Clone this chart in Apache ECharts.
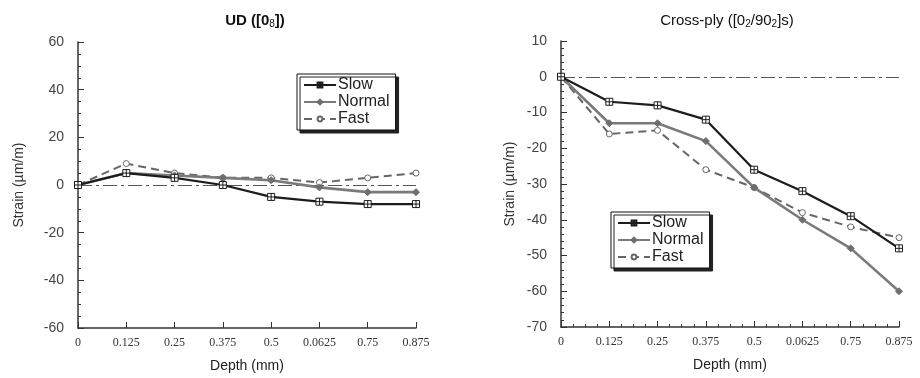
<!DOCTYPE html>
<html><head><meta charset="utf-8">
<script src="https://cdn.jsdelivr.net/npm/echarts@6/dist/echarts.min.js"></script>
<style>html,body{margin:0;padding:0;background:#fff}#c{width:920px;height:378px}</style>
</head><body><div id="c"></div>
<script>
const depthLabels = ['0','0.125','0.25','0.375','0.5','0.0625','0.75','0.875'];
const seriesNames = ['Slow','Normal','Fast'];
const udSlow   = [0, 5, 3, 0, -5, -7, -8, -8];
const udNormal = [0, 5, 4, 3, 2, -1, -3, -3];
const udFast   = [0, 9, 5, 3, 3, 1, 3, 5];
const cpSlow   = [0, -7, -8, -12, -26, -32, -39, -48];
const cpNormal = [0, -13, -13, -18, -31, -40, -48, -60];
const cpFast   = [0, -16, -15, -26, -31, -38, -42, -45];

const pts = arr => arr.map((v,i)=>[i,v]);
const squarePlus = 'path://M0,0H10V10H0Z M5,0V10 M0,5H10';
const styles = {
  Slow:   {color:'#1c1c1c', lineStyle:{color:'#1c1c1c',width:2.2,type:'solid'}, symbol:squarePlus, symbolSize:7, itemStyle:{color:'#fff',borderColor:'#1c1c1c',borderWidth:1}},
  Normal: {color:'#7a7a7a', lineStyle:{color:'#7a7a7a',width:2.6,type:'solid'}, symbol:'diamond', symbolSize:7, itemStyle:{color:'#6e6e6e',borderColor:'#6e6e6e',borderWidth:1}},
  Fast:   {color:'#666', lineStyle:{color:'#666',width:2,type:[8,5]}, symbol:'circle', symbolSize:6, itemStyle:{color:'#fff',borderColor:'#666',borderWidth:1}}
};
function mk(name, data, idx, withZero){
  const s = styles[name];
  const o = {name, type:'line', xAxisIndex:idx, yAxisIndex:idx, data:pts(data),
    symbol:s.symbol, symbolSize:s.symbolSize, showAllSymbol:true,
    lineStyle:s.lineStyle, itemStyle:s.itemStyle, color:s.color, z: name==='Slow'?5:(name==='Normal'?4:3), animation:false};
  if (withZero) o.markLine = {silent:true, symbol:['none','none'], label:{show:false}, z:1,
    lineStyle:{color:'#555',width:1.2,type:[14,4,3,4]}, data:[{yAxis:0}]};
  return o;
}
const axisCol = '#333';
function xAx(idx, minor){
  return {type:'value', gridIndex:idx, min:0, max:7, interval:1,
    name:'Depth (mm)', nameLocation:'middle', nameGap:31,
    nameTextStyle:{fontFamily:'Liberation Sans, Arial', fontSize:14, color:'#222'},
    axisLine:{onZero:false, lineStyle:{color:axisCol,width:1.5}},
    axisTick:{inside:true,length:6,lineStyle:{color:axisCol}},
    minorTick:{show:minor, splitNumber:4, length:3, lineStyle:{color:axisCol}},
    splitLine:{show:false},
    axisLabel:{formatter:v=>depthLabels[v]||'', fontFamily:'Liberation Serif, Times New Roman', fontSize:12, color:'#333', margin:9}};
}
function yAx(idx, min, max, interval, minorSplit, gap){
  return {type:'value', gridIndex:idx, min, max, interval,
    name:'Strain (µm/m)', nameLocation:'middle', nameGap:gap,
    nameTextStyle:{fontFamily:'Liberation Sans, Arial', fontSize:14, color:'#333'},
    axisLine:{show:true,onZero:false,lineStyle:{color:axisCol,width:1.5}},
    axisTick:{show:true,inside:true,length:6,lineStyle:{color:axisCol}},
    minorTick:{show:true, splitNumber:minorSplit, length:3, lineStyle:{color:axisCol}},
    splitLine:{show:false},
    axisLabel:{fontFamily:'Liberation Sans, Arial', fontSize:14, color:'#444', margin:14}};
}
function legend(left, top){
  return {left, top, orient:'vertical', data:seriesNames, itemWidth:32, itemHeight:6, itemGap:1,
    padding:[3,6,3,6], backgroundColor:'#fff', borderColor:'#111', borderWidth:1,
    shadowColor:'#222', shadowBlur:0, shadowOffsetX:3, shadowOffsetY:3,
    textStyle:{fontFamily:'Liberation Sans, Arial', fontSize:16, color:'#222', padding:[0,0,0,-3]},
    selectedMode:false};
}
const chart = echarts.init(document.getElementById('c'), null, {renderer:'canvas'});
chart.setOption({
  animation:false,
  title:[
    {text:'{b|UD ([0}{bs|8}{b|])}', left:250, top:8, textAlign:'center',
     textStyle:{rich:{b:{fontFamily:'Liberation Sans, Arial',fontSize:15,fontWeight:'bold',color:'#111'},
                      bs:{fontFamily:'Liberation Sans, Arial',fontSize:10,fontWeight:'normal',color:'#111',verticalAlign:'bottom',padding:[6,0,0,0]}}}},
    {text:'{n|Cross-ply ([0}{s|2}{n|/90}{s|2}{n|]s)}', left:722, top:8, textAlign:'center',
     textStyle:{fontWeight:'normal', rich:{n:{fontFamily:'Liberation Sans, Arial',fontSize:15,fontWeight:'normal',color:'#111'},
                      s:{fontFamily:'Liberation Sans, Arial',fontSize:10,fontWeight:'normal',color:'#111',verticalAlign:'bottom',padding:[6,0,0,0]}}}}
  ],
  legend:[legend(297,74), legend(611,212)],
  grid:[{left:78, right:504, top:42, bottom:50},{left:561, right:21, top:41, bottom:51}],
  xAxis:[xAx(0,false), xAx(1,true)],
  yAxis:[yAx(0,-60,60,20,4,52), yAx(1,-70,10,10,5,44)],
  series:[
    mk('Slow',udSlow,0,true), mk('Normal',udNormal,0,false), mk('Fast',udFast,0,false),
    mk('Slow',cpSlow,1,true), mk('Normal',cpNormal,1,false), mk('Fast',cpFast,1,false)
  ]
});
</script></body></html>
